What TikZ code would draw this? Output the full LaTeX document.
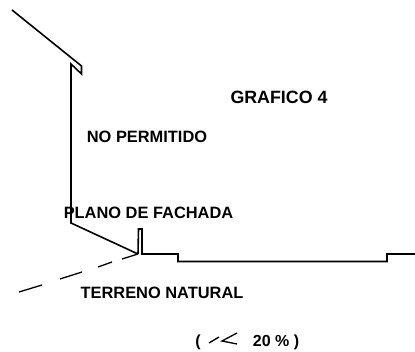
\documentclass[tikz,border=0pt]{standalone}
\usepackage{fontspec}
\setmainfont{Liberation Sans}
\begin{document}
\begin{tikzpicture}[x=1pt,y=-1pt,
    label/.style = {font=\bfseries\fontsize{16.4}{18}\selectfont, inner sep=0pt, anchor=center},
    title/.style = {font=\bfseries\fontsize{17.8}{20}\selectfont, inner sep=0pt, anchor=center},
    small/.style = {font=\bfseries\fontsize{16}{18}\selectfont, inner sep=0pt, anchor=center},
    wall/.style = {draw=black, line width=1.6pt, line join=miter},
    soil/.style = {draw=black, line width=1.3pt}]
    \useasboundingbox (0,0) rectangle (415,352);
    % roof and facade
    \draw[wall] (12,10) -- (81.5,66) -- (81.5,74) -- (71,64) -- (71,223) -- (138,254);
    % post and ground
    \draw[wall] (138,254) -- (138.5,229) -- (142,229) -- (142,254) -- (178,254) -- (178,261.5)
        -- (387,261.5) -- (387,254) -- (415,254);
    % natural terrain
    \draw[soil] (19,292) -- (42,285);
    \draw[soil] (60,279) -- (82,272);
    \draw[soil] (98,267) -- (112,262);
    \draw[soil] (122,259) -- (138,254);
    % slope sign
    \draw[soil] (209,343) -- (219,337);
    \draw[soil] (237,333) -- (222,341) -- (237,344);
    \node[title] (grafico) at (279,97) {GRAFICO 4};
    \node[label] (permitido) at (147,136.5) {NO PERMITIDO};
    \node[label] (fachada) at (148.5,213) {PLANO DE FACHADA};
    \node[label] (terreno) at (162,293) {TERRENO NATURAL};
    \node[small] (open) at (198,342) {(};
    \node[small] (pct) at (276,342) {20 \% )};
\end{tikzpicture}
\end{document}
